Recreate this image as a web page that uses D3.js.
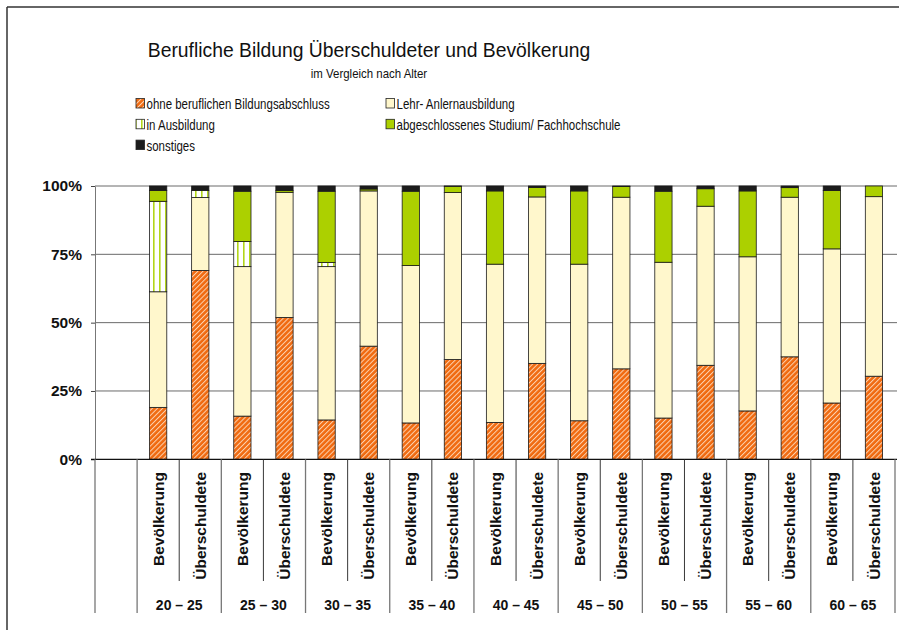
<!DOCTYPE html>
<html lang="de">
<head>
<meta charset="UTF-8">
<title>Berufliche Bildung</title>
<script src="https://cdn.jsdelivr.net/npm/d3@7"></script>
<style>
    body{ margin:0; background:#fff; }
    svg text{ font-family:"Liberation Sans", Arial, sans-serif; fill:#111; }
    .tick text{ font-weight:bold; font-size:15.5px; }
</style>
</head>
<body>
<svg id="chart" width="899" height="630"></svg>
<script>
// data (percent of each bar)
const groups = ["20 – 25","25 – 30","30 – 35","35 – 40","40 – 45","45 – 50","50 – 55","55 – 60","60 – 65"];
const kinds = ["Bevölkerung","Überschuldete"];
const seriesNames = ["ohne beruflichen Bildungsabschluss","Lehr- Anlernausbildung","in Ausbildung",
                     "abgeschlossenes Studium/ Fachhochschule","sonstiges"];
const ohne  = [19.0,69.1,15.8,51.9,14.4,41.4,13.3,36.5,13.5,35.1,14.1,33.1,15.1,34.4,17.7,37.5,20.6,30.4];
const lehr  = [42.3,26.7,54.7,45.8,56.1,56.8,57.6,61.1,57.9,60.9,57.3,62.8,57.0,58.2,56.4,58.4,56.4,65.7];
const ausb  = [33.1, 2.6, 9.2, 0.0, 1.5, 0.0, 0.0, 0.0, 0.0, 0.0, 0.0, 0.0, 0.0, 0.0, 0.0, 0.0, 0.0, 0.0];
const stud  = [ 4.0, 0.0,18.4, 0.7,26.1, 0.7,27.2, 2.3,26.8, 3.5,26.8, 3.9,26.0, 6.4,24.1, 3.5,21.4, 3.9];
const sonst = [ 1.6, 1.6, 1.9, 1.6, 1.9, 1.1, 1.9, 0.1, 1.8, 0.5, 1.8, 0.2, 1.9, 1.0, 1.8, 0.6, 1.6, 0.0];
const yTicks = [0,25,50,75,100];

const svg = d3.select("#chart");
const W = 899, H = 630;
const pLeft = 95, pRight = 895, pTop = 186, pBottom = 459.3;

// table rows for d3.stack
const keys = ["ohne","lehr","ausb","stud","sonst"];
const rows = [];
groups.forEach((g,gi) => kinds.forEach((k,ki) => {
    const i = gi*2 + ki;
    rows.push({id: g + "|" + k, group: g, kind: k,
        ohne: ohne[i], lehr: lehr[i], ausb: ausb[i], stud: stud[i], sonst: sonst[i]});
}));
const stacked = d3.stack().keys(keys)(rows);

// patterns
const defs = svg.append("defs");
const hatch = defs.append("pattern").attr("id","hatch").attr("patternUnits","userSpaceOnUse")
    .attr("width",3.6).attr("height",3.6).attr("patternTransform","rotate(45)");
hatch.append("rect").attr("width",3.6).attr("height",3.6).attr("fill","#f06a10");
hatch.append("rect").attr("width",1.0).attr("height",3.6).attr("fill","#fcd2b0");
const vstripe = defs.append("pattern").attr("id","vstripe").attr("patternUnits","userSpaceOnUse")
    .attr("width",6).attr("height",6).attr("x",1);
vstripe.append("rect").attr("width",6).attr("height",6).attr("fill","#ffffff");
vstripe.append("rect").attr("x",2).attr("width",1.6).attr("height",6).attr("fill","#b3d61a");

const fills = {ohne:"url(#hatch)", lehr:"#fff7cc", ausb:"url(#vstripe)", stud:"#acd000", sonst:"#1c1c1c"};

// frame
svg.append("line").attr("x1",7).attr("x2",W).attr("y1",7).attr("y2",7).attr("stroke","#333").attr("stroke-width",1.5);
svg.append("line").attr("x1",7).attr("x2",7).attr("y1",7).attr("y2",H).attr("stroke","#333").attr("stroke-width",1.5);

// condensed font look (narrow face in the original)
function narrow(sel, ratio){
    sel.each(function(){
        const w = this.getComputedTextLength();
        d3.select(this).attr("textLength", w*ratio).attr("lengthAdjust","spacingAndGlyphs");
    });
}

// title
svg.append("text").attr("x",369).attr("y",56.5).attr("text-anchor","middle")
    .style("font-size","21px").text("Berufliche Bildung Überschuldeter und Bevölkerung").call(narrow, 0.92);
svg.append("text").attr("x",369).attr("y",78).attr("text-anchor","middle")
    .style("font-size","13px").text("im Vergleich nach Alter").call(narrow, 0.88);

// legend
const legend = svg.append("g");
keys.forEach((k,i) => {
    const col = i % 2, row = Math.floor(i/2);
    const gx = col === 0 ? 136 : 386, gy = 98.5 + row*20.8;
    legend.append("rect").attr("x",gx).attr("y",gy).attr("width",8.5).attr("height",9.5)
        .attr("fill",fills[k]).attr("stroke","#222").attr("stroke-width",0.8);
    legend.append("text").attr("x",gx+10.5).attr("y",gy+10.5)
        .style("font-size","14px").text(seriesNames[i]).call(narrow, 0.82);
});

// scales
const x = d3.scaleBand().domain(["leer"].concat(rows.map(d => d.id)))
    .range([pLeft,pRight]).paddingInner(0.59).paddingOuter(0.295);
const step = x.step();
const y = d3.scaleLinear().domain([0,100]).range([pBottom,pTop]);

// gridlines
svg.append("g").selectAll("line").data(yTicks.filter(t => t > 0)).join("line")
    .attr("x1",pLeft).attr("x2",897).attr("y1",d => y(d)).attr("y2",d => y(d))
    .attr("stroke","#6a6a6a").attr("stroke-width",1);

// y axis
const yAxis = svg.append("g").attr("transform",`translate(${pLeft},0)`)
    .call(d3.axisLeft(y).tickValues(yTicks).tickFormat(d => d + "%").tickSize(4).tickPadding(9).tickSizeOuter(0));
yAxis.select(".domain").attr("stroke","#777");
yAxis.selectAll(".tick line").attr("stroke","#444");

// bars
svg.append("g").selectAll("g").data(stacked).join("g")
    .attr("fill",s => fills[s.key])
    .selectAll("rect").data(s => s.filter(d => d[1] - d[0] > 0)).join("rect")
    .attr("x",d => x(d.data.id)).attr("width",x.bandwidth())
    .attr("y",d => y(d[1])).attr("height",d => y(d[0]) - y(d[1]))
    .attr("stroke","#1a1a1a").attr("stroke-width",0.8);

// base line
svg.append("line").attr("x1",91).attr("x2",897).attr("y1",pBottom).attr("y2",pBottom)
    .attr("stroke","#111").attr("stroke-width",1.2);

// category table below the axis
const nSlots = rows.length + 1;
const bounds = d3.range(nSlots + 1);
svg.append("g").selectAll("line").data(bounds).join("line")
    .attr("x1",i => pLeft + i*step).attr("x2",i => pLeft + i*step)
    .attr("y1",pBottom).attr("y2",i => (i === 0 || i % 2 === 1) ? 613 : 581)
    .attr("stroke",i => (i === 0 || i % 2 === 1) ? "#777" : "#222")
    .attr("stroke-width",i => (i === 0 || i % 2 === 1) ? 1.3 : 0.9);

svg.append("g").selectAll("text").data(rows).join("text")
    .attr("transform",d => `translate(${x(d.id) + x.bandwidth()/2},472) rotate(-90)`)
    .attr("text-anchor","end").attr("dy","0.36em")
    .style("font-weight","bold").style("font-size","15.5px")
    .text(d => d.kind);

svg.append("g").selectAll("text").data(groups).join("text")
    .attr("x",(g,gi) => pLeft + (1 + gi*2 + 1)*step).attr("y",610)
    .attr("text-anchor","middle")
    .style("font-weight","bold").style("font-size","14px")
    .text(g => g);
</script>
</body>
</html>
